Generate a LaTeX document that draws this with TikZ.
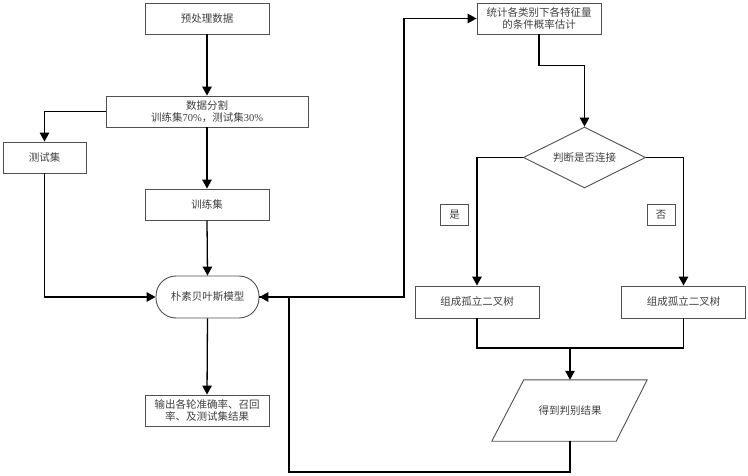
\documentclass[tikz,border=0pt]{standalone}
\usepackage{fontspec}
\setmainfont{Liberation Serif}
\newfontfamily\cjk{Noto Sans CJK SC}
\usetikzlibrary{shapes.geometric,arrows.meta,calc}
\definecolor{txt}{HTML}{404040}
\definecolor{bord}{HTML}{505050}
\tikzset{
  x=1pt,y=-1pt,
  box/.style={draw=bord,line width=0.9pt,fill=white,text=txt,font=\cjk\fontsize{10.5}{12.5}\selectfont,inner sep=1pt,align=center,minimum width=124pt,minimum height=31pt},
  lab/.style={draw=bord,line width=0.9pt,text=txt,font=\cjk\fontsize{10.5}{12}\selectfont,inner sep=1pt,minimum width=28pt,minimum height=21pt},
  conn/.style={line width=1.3pt,black},
  arr/.style={conn,-{Triangle[length=9pt,width=9.5pt]}},
}
\begin{document}
\begin{tikzpicture}
\useasboundingbox (0,0) rectangle (748,476);
\node[box] (pre) at (207,18.5) {预处理数据};
\node[box,minimum width=202pt,font=\fontsize{10.5}{12.5}\selectfont] (split) at (207,111.5) {{\cjk 数据分割}\\{\cjk 训练集}70\%{\cjk ，测试集}30\%};
\node[box,minimum width=83pt] (test) at (44.5,157.5) {测试集};
\node[box] (train) at (207,204.5) {训练集};
\node[box,minimum width=103pt,minimum height=42pt,rounded corners=20pt] (nb) at (207.5,297) {朴素贝叶斯模型};
\node[box] (out) at (207,410.5) {输出各轮准确率、召回\\率、及测试集结果};
\node[box] (stat) at (539,18.5) {统计各类别下各特征量\\的条件概率估计};
\node[box,shape=diamond,aspect=2,minimum width=122pt,minimum height=61pt,inner sep=0pt] (dec) at (584.5,157.5) {判断是否连接};
\node[lab] (yes) at (454.5,214.5) {是};
\node[lab] (no) at (661,214.5) {否};
\node[box,minimum height=32pt] (tl) at (477,302) {组成孤立二叉树};
\node[box,minimum height=32pt] (tr) at (683.5,302) {组成孤立二叉树};
\node[text=txt,font=\cjk\fontsize{10.5}{12.5}\selectfont,minimum width=92pt,minimum height=61pt,inner sep=0pt] (res) at (570,410.5) {得到判别结果};
\draw[draw=bord,line width=0.9pt] (res.north west) -- ($(res.north east)+(31,0)$) -- (res.south east) -- ($(res.south west)+(-32,0)$) -- cycle;
\coordinate (rtop) at (res.north);
\coordinate (rbot) at (res.south);
\coordinate (up) at (404,297);
\coordinate (loop) at (289,472);
\coordinate (join) at (570,348);
% connectors
\draw[arr] (pre.south) -- (split.north);
\draw[arr] (split.west) -| (test.north);
\draw[arr] (split.south) -- (train.north);
\draw[arr] (train.south) -- (nb.north);
\draw[arr] (test.south) |- (nb.west);
\draw[arr] (nb.south) -- (out.north);
\draw[arr] (nb.east) -- (up) |- (stat.west);
\draw[arr] (stat.south) -- ++(0,31) -| (dec.north);
\draw[arr] (dec.west) -| (tl.north);
\draw[arr] (dec.east) -| (tr.north);
\draw[conn] (tl.south) |- (join) -| (tr.south);
\draw[arr] (join) -- (rtop);
\draw[arr] (rbot) |- (loop) |- (nb.east);
\end{tikzpicture}
\end{document}
